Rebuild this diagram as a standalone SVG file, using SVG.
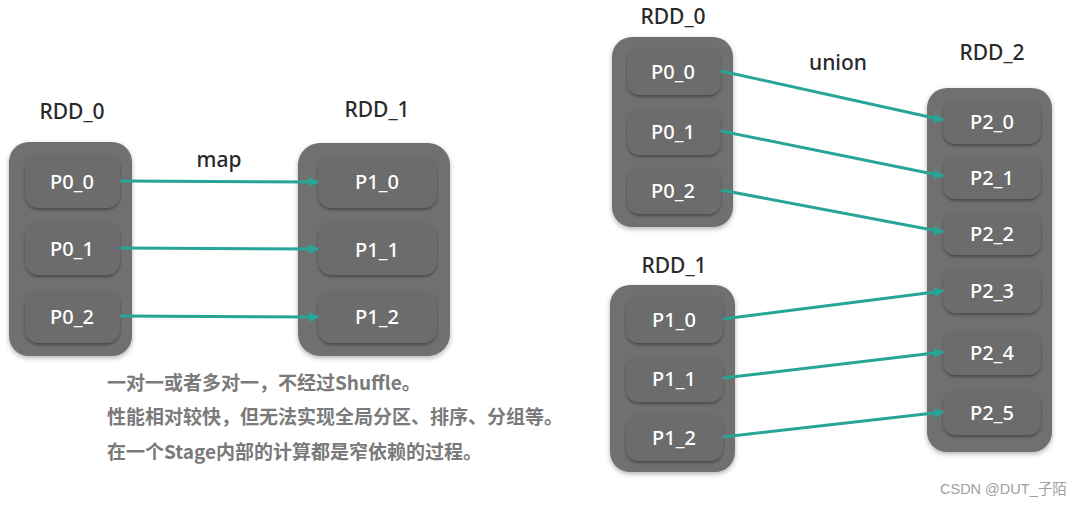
<svg xmlns="http://www.w3.org/2000/svg" width="1083" height="506" viewBox="0 0 1083 506">
<style>
.outer{fill:#707070;filter:url(#sh)}
.inner{fill:#6c6c6c;filter:url(#sh2)}
.pl{font-family:"Noto Sans","Noto Sans CJK SC",sans-serif;font-size:20px;font-weight:500;fill:#ffffff;text-anchor:middle;dominant-baseline:central}
.rl{font-family:"Noto Sans","Noto Sans CJK SC",sans-serif;font-size:21px;font-weight:500;fill:#2a2a2a;text-anchor:middle}
.cn{font-family:"Noto Sans CJK SC",sans-serif;font-size:19px;font-weight:bold;fill:#7a7a7a}
.wm{font-family:"Liberation Sans","Noto Sans CJK SC",sans-serif;font-size:14.5px;fill:#a0a0a0}
.ar{stroke:#27a597;stroke-width:3;fill:none;marker-end:url(#ah)}
</style>
<defs>
<filter id="sh" x="-20%" y="-20%" width="140%" height="140%">
<feDropShadow dx="0" dy="2" stdDeviation="2.5" flood-color="#000" flood-opacity="0.3"/>
</filter>
<filter id="sh2" x="-20%" y="-20%" width="140%" height="140%">
<feDropShadow dx="0" dy="2" stdDeviation="1.5" flood-color="#000" flood-opacity="0.35"/>
</filter>
<marker id="ah" markerWidth="10" markerHeight="10" refX="9" refY="5" orient="auto" markerUnits="userSpaceOnUse">
<path d="M0,0 L10,5 L0,10 Z" fill="#27a597"/>
</marker>
</defs>
<rect width="1083" height="506" fill="#ffffff"/>

<!-- Left: map -->
<g id="l_rdd0">
<text class="rl" x="72" y="119">RDD_0</text>
<rect class="outer" x="9" y="142" width="123" height="214" rx="20"/>
</g>
<g id="l_p0_0"><rect class="inner" x="25" y="154" width="95" height="54" rx="14"/><text class="pl" x="72" y="181">P0_0</text></g>
<g id="l_p0_1"><rect class="inner" x="25" y="222" width="95" height="53" rx="14"/><text class="pl" x="72" y="248">P0_1</text></g>
<g id="l_p0_2"><rect class="inner" x="25" y="290" width="95" height="53" rx="14"/><text class="pl" x="72" y="316">P0_2</text></g>

<g id="l_rdd1">
<text class="rl" x="377" y="117">RDD_1</text>
<rect class="outer" x="298" y="143" width="152" height="213" rx="22"/>
</g>
<g id="l_p1_0"><rect class="inner" x="318" y="155" width="119" height="53" rx="14"/><text class="pl" x="377" y="181">P1_0</text></g>
<g id="l_p1_1"><rect class="inner" x="318" y="222" width="119" height="53" rx="14"/><text class="pl" x="377" y="249">P1_1</text></g>
<g id="l_p1_2"><rect class="inner" x="318" y="290" width="119" height="53" rx="14"/><text class="pl" x="377" y="316">P1_2</text></g>

<g id="l_text">
<text class="rl" x="219" y="167">map</text>
<text class="cn" x="107" y="390">一对一或者多对一，不经过Shuffle。</text>
<text class="cn" x="107" y="424">性能相对较快，但无法实现全局分区、排序、分组等。</text>
<text class="cn" x="107" y="459">在一个Stage内部的计算都是窄依赖的过程。</text>
</g>

<!-- Right: union -->
<g id="r_rdd0">
<text class="rl" x="673" y="24">RDD_0</text>
<rect class="outer" x="612" y="37" width="121" height="190" rx="20"/>
</g>
<g id="r_p0_0"><rect class="inner" x="627" y="47" width="94" height="48" rx="13"/><text class="pl" x="673" y="71">P0_0</text></g>
<g id="r_p0_1"><rect class="inner" x="627" y="108" width="94" height="47" rx="13"/><text class="pl" x="673" y="131">P0_1</text></g>
<g id="r_p0_2"><rect class="inner" x="627" y="167" width="94" height="47" rx="13"/><text class="pl" x="673" y="190">P0_2</text></g>

<g id="r_rdd1">
<text class="rl" x="674" y="273">RDD_1</text>
<rect class="outer" x="610" y="285" width="125" height="187" rx="20"/>
</g>
<g id="r_p1_0"><rect class="inner" x="626" y="295" width="97" height="48" rx="13"/><text class="pl" x="674" y="319">P1_0</text></g>
<g id="r_p1_1"><rect class="inner" x="626" y="355" width="97" height="47" rx="13"/><text class="pl" x="674" y="378">P1_1</text></g>
<g id="r_p1_2"><rect class="inner" x="626" y="414" width="97" height="47" rx="13"/><text class="pl" x="674" y="437">P1_2</text></g>

<g id="r_rdd2">
<text class="rl" x="992" y="60">RDD_2</text>
<rect class="outer" x="927" y="88" width="125" height="364" rx="20"/>
</g>
<g id="r_p2_0"><rect class="inner" x="943" y="99" width="98" height="45" rx="13"/><text class="pl" x="992" y="121">P2_0</text></g>
<g id="r_p2_1"><rect class="inner" x="943" y="155" width="98" height="44" rx="13"/><text class="pl" x="992" y="177">P2_1</text></g>
<g id="r_p2_2"><rect class="inner" x="943" y="211" width="98" height="44" rx="13"/><text class="pl" x="992" y="233">P2_2</text></g>
<g id="r_p2_3"><rect class="inner" x="943" y="268" width="98" height="45" rx="13"/><text class="pl" x="992" y="290">P2_3</text></g>
<g id="r_p2_4"><rect class="inner" x="943" y="330" width="98" height="45" rx="13"/><text class="pl" x="992" y="352">P2_4</text></g>
<g id="r_p2_5"><rect class="inner" x="943" y="390" width="98" height="45" rx="13"/><text class="pl" x="992" y="412">P2_5</text></g>

<g id="r_text">
<text class="rl" x="838" y="70">union</text>
<text class="wm" x="940" y="494">CSDN @DUT_子陌</text>
</g>

<g id="connectors">
<line class="ar" x1="120" y1="181" x2="318" y2="182"/>
<line class="ar" x1="120" y1="248" x2="318" y2="249"/>
<line class="ar" x1="120" y1="316" x2="318" y2="317"/>
<line class="ar" x1="721" y1="71" x2="943" y2="120"/>
<line class="ar" x1="721" y1="131" x2="943" y2="176"/>
<line class="ar" x1="721" y1="190" x2="943" y2="232"/>
<line class="ar" x1="723" y1="319" x2="943" y2="291"/>
<line class="ar" x1="723" y1="378" x2="943" y2="352"/>
<line class="ar" x1="723" y1="437" x2="943" y2="412"/>
</g>
</svg>
